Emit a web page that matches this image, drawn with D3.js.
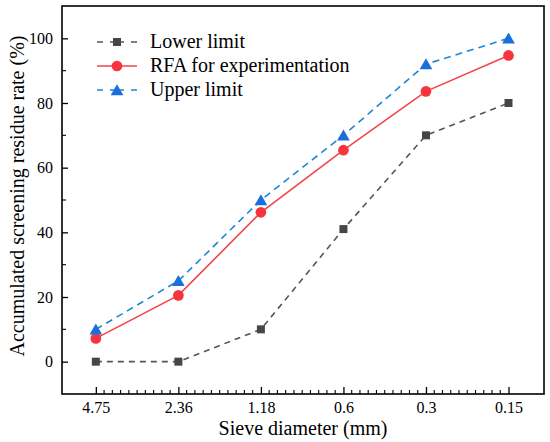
<!DOCTYPE html>
<html>
<head>
<meta charset="utf-8">
<script src="https://cdn.jsdelivr.net/npm/d3@7"></script>
<style>
  body { margin: 0; background: #fff; }
  svg, svg text { font-family: "Liberation Serif", "Times New Roman", serif; }
</style>
</head>
<body>
<script>
var categorias = ["4.75", "2.36", "1.18", "0.6", "0.3", "0.15"];
var inferior = [0, 0, 10, 41, 70, 80];
var rfa = [7.2, 20.5, 46.2, 65.4, 83.6, 94.7];
var superior = [10, 25, 50, 70, 92, 100];
var yTicks = [0, 20, 40, 60, 80, 100];

var w = 550, h = 442;
var izq = 62, der = 544, arriba = 6, abajo = 394;

var svg = d3.select("body").append("svg")
    .attr("width", w)
    .attr("height", h);

var x = d3.scaleLinear().domain([-0.41, 5.43]).range([izq, der]);
var y = d3.scaleLinear().domain([-10, 110]).range([abajo, arriba]);

// ejes
var ejeX = svg.append("g").attr("transform", "translate(0," + abajo + ")")
    .call(d3.axisBottom(x).tickValues(d3.range(categorias.length))
        .tickFormat(function (d) { return categorias[d]; })
        .tickSize(-7).tickPadding(8));
ejeX.attr("font-family", null).attr("font-size", 16);
ejeX.select(".domain").remove();
ejeX.selectAll("text").attr("fill", "#000");
ejeX.selectAll("line").attr("stroke-width", 1.3);

var menoresX = [];
d3.range(categorias.length - 1).forEach(function (i) {
    for (var k = 1; k < 10; k++) menoresX.push(i + k / 10);
});
svg.append("g").selectAll("line").data(menoresX).enter().append("line")
    .attr("x1", function (d) { return x(d); })
    .attr("x2", function (d) { return x(d); })
    .attr("y1", abajo).attr("y2", abajo - 4)
    .attr("stroke", "#000").attr("stroke-width", 1.1);

var ejeY = svg.append("g").attr("transform", "translate(" + izq + ",0)")
    .call(d3.axisLeft(y).tickValues(yTicks).tickSize(-6).tickPadding(9));
ejeY.attr("font-family", null).attr("font-size", 16);
ejeY.select(".domain").remove();
ejeY.selectAll("text").attr("fill", "#000");
ejeY.selectAll("line").attr("stroke-width", 1.3);

svg.append("g").selectAll("line").data([10, 30, 50, 70, 90]).enter().append("line")
    .attr("x1", izq).attr("x2", izq + 4)
    .attr("y1", function (d) { return y(d); })
    .attr("y2", function (d) { return y(d); })
    .attr("stroke", "#000").attr("stroke-width", 1.1);

svg.append("rect")
    .attr("x", izq).attr("y", arriba)
    .attr("width", der - izq).attr("height", abajo - arriba)
    .attr("fill", "none").attr("stroke", "#000").attr("stroke-width", 1.6);

// titulos
svg.append("text")
    .attr("x", (izq + der) / 2).attr("y", 435)
    .attr("text-anchor", "middle").attr("font-size", 20)
    .text("Sieve diameter (mm)");

svg.append("text")
    .attr("transform", "translate(24,196) rotate(-90)")
    .attr("text-anchor", "middle").attr("font-size", 20)
    .text("Accumulated screening residue rate (%)");

// series
var series = [
    { nombre: "Lower limit", datos: inferior, linea: "#555555", marca: "#464646", dash: "6,5", forma: d3.symbolSquare, tam: 64 },
    { nombre: "RFA for experimentation", datos: rfa, linea: "#f5434b", marca: "#f5343d", dash: null, forma: d3.symbolCircle, tam: 90 },
    { nombre: "Upper limit", datos: superior, linea: "#1f86d4", marca: "#1a6fdc", dash: "7,5", forma: d3.symbolTriangle, tam: 70 }
];

var linea = d3.line()
    .x(function (d, i) { return x(i); })
    .y(function (d) { return y(d); });

series.forEach(function (s) {
    svg.append("path")
        .attr("d", linea(s.datos))
        .attr("fill", "none")
        .attr("stroke", s.linea)
        .attr("stroke-width", 1.6)
        .attr("stroke-dasharray", s.dash);

    svg.append("g").selectAll("path")
        .data(s.datos)
        .enter()
        .append("path")
        .attr("d", d3.symbol().type(s.forma).size(s.tam))
        .attr("transform", function (d, i) {
            var dy = s.forma === d3.symbolTriangle ? 1.5 : 0;
            return "translate(" + x(i) + "," + (y(d) + dy) + ")";
        })
        .attr("fill", s.marca);
});

// leyenda
var leyenda = svg.append("g");
series.forEach(function (s, i) {
    var ly = 42 + i * 24;
    leyenda.append("line")
        .attr("x1", 97).attr("x2", 137)
        .attr("y1", ly).attr("y2", ly)
        .attr("stroke", s.linea).attr("stroke-width", 1.6)
        .attr("stroke-dasharray", s.dash ? "6,7,14,7,6" : null);
    leyenda.append("path")
        .attr("d", d3.symbol().type(s.forma).size(s.tam))
        .attr("transform", "translate(117," + (ly + (s.forma === d3.symbolTriangle ? 1.5 : 0)) + ")")
        .attr("fill", s.marca);
    leyenda.append("text")
        .attr("x", 150).attr("y", ly + 6)
        .attr("font-size", 20)
        .text(s.nombre);
});
</script>
</body>
</html>
